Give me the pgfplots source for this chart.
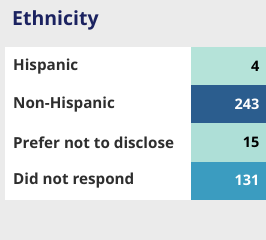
\documentclass[border=0pt]{standalone}
\usepackage{pgfplots}
\pgfplotsset{compat=1.18}
\usepackage{fontspec}
\setmainfont{Open Sans}
\definecolor{bgc}{HTML}{EBEBEB}
\definecolor{titlec}{HTML}{1B2260}
\definecolor{labc}{HTML}{2E2E2E}
\definecolor{cA}{HTML}{B5E3D9}
\definecolor{cB}{HTML}{2B5D8E}
\definecolor{cC}{HTML}{AEDFD7}
\definecolor{cD}{HTML}{3B9CC0}
\begin{document}
\begin{tikzpicture}
\fill[bgc] (0,0) rectangle (266pt,240pt);
\fill[white] (5pt,40pt) rectangle (266pt,193pt);
\node[anchor=west, inner sep=0pt, text=titlec, font=\fontsize{19.5}{22}\selectfont\bfseries] at (12pt,220pt) {Ethnicity};
\begin{axis}[
  at={(191pt,40pt)}, anchor=south west,
  width=75pt, height=153pt, scale only axis,
  xmin=0, xmax=1, ymin=-0.5, ymax=3.5,
  axis line style={draw=none},
  major tick length=0pt,
  xtick=\empty,
  ytick={0,1,2,3},
  yticklabels={Did not respond, Prefer not to disclose, Non-Hispanic, Hispanic},
  yticklabel style={anchor=west, inner sep=0pt, xshift=-178pt, text=labc, font=\fontsize{15.2}{18}\selectfont\bfseries},
  clip=false,
  every node near coord/.append style={/pgf/number format/assume math mode=true, anchor=east, xshift=-3pt, font=\fontsize{14.5}{17}\selectfont\bfseries},
]
\addplot[xbar, bar shift=0pt, bar width=1, fill=cA, draw=none, point meta=explicit,
  nodes near coords, nodes near coords style={text=black}]
  coordinates {(1,3) [4]};
\addplot[xbar, bar shift=0pt, bar width=1, fill=cB, draw=none, point meta=explicit,
  nodes near coords, nodes near coords style={text=white}]
  coordinates {(1,2) [243]};
\addplot[xbar, bar shift=0pt, bar width=1, fill=cC, draw=none, point meta=explicit,
  nodes near coords, nodes near coords style={text=black}]
  coordinates {(1,1) [15]};
\addplot[xbar, bar shift=0pt, bar width=1, fill=cD, draw=none, point meta=explicit,
  nodes near coords, nodes near coords style={text=white}]
  coordinates {(1,0) [131]};
\end{axis}
\end{tikzpicture}
\end{document}
